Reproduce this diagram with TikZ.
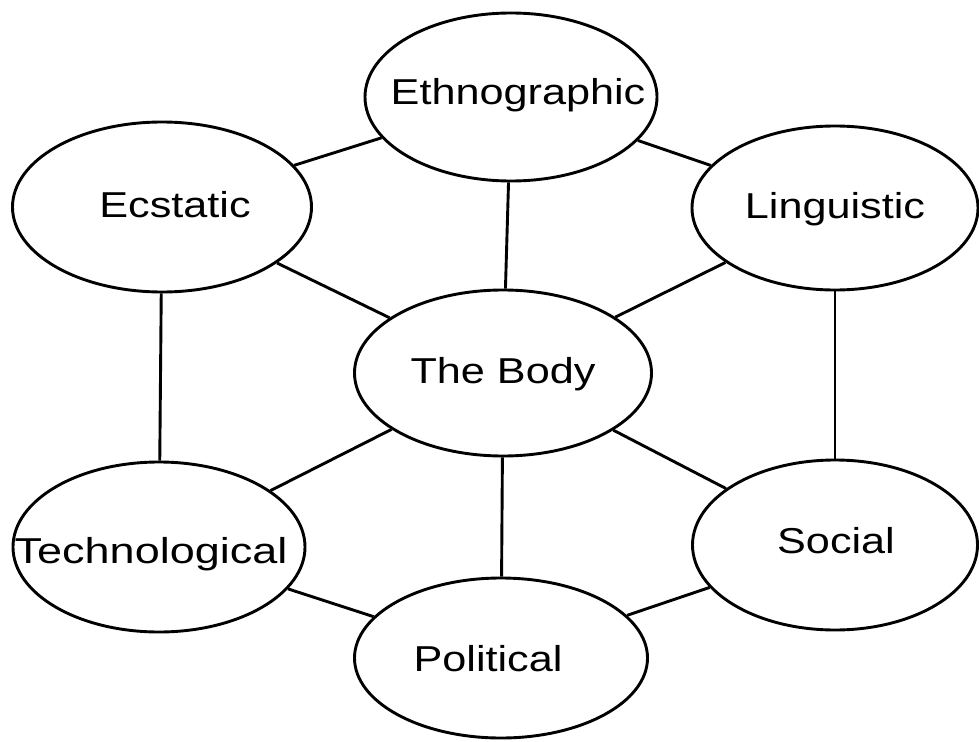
\documentclass[tikz,border=0pt]{standalone}
\usepackage{fontspec}
\setmainfont{Liberation Sans}
\usepackage{graphicx}
\usetikzlibrary{shapes.geometric}
\tikzset{
  oval/.style={ellipse, draw=black, line width=2.9pt, inner sep=0pt, fill=white},
  link/.style={draw=black, line width=2.9pt},
  lbl/.style={anchor=base, inner sep=0pt, font=\fontsize{36}{40}\selectfont}
}
\newcommand{\wide}[1]{\scalebox{1.2}[1]{#1}}
\begin{document}
\begin{tikzpicture}[x=1pt,y=-1pt]
\useasboundingbox (0,0) rectangle (979,741);
\node[oval, minimum width=292pt, minimum height=168pt] (eth) at (511,97) {};
\node[oval, minimum width=299pt, minimum height=170pt] (ecs) at (162,207) {};
\node[oval, minimum width=286pt, minimum height=164pt] (lin) at (835,208) {};
\node[oval, minimum width=297pt, minimum height=166pt] (body) at (503,373) {};
\node[oval, minimum width=292pt, minimum height=170pt] (tec) at (159,547) {};
\node[oval, minimum width=285pt, minimum height=170pt] (soc) at (835,545) {};
\node[oval, minimum width=293pt, minimum height=160pt] (pol) at (501,658) {};
\node[lbl] (teth) at (518,105) {\wide{Ethnographic}};
\node[lbl] (tecs) at (175,217) {\wide{Ecstatic}};
\node[lbl] (tlin) at (835,218) {\wide{Linguistic}};
\node[lbl] (tbody) at (503,383) {\wide{The Body}};
\node[lbl] (ttec) at (151,563) {\scalebox{1.25}[1]{Technological}};
\node[lbl] (tsoc) at (836,553) {\wide{Social}};
\node[lbl] (tpol) at (488,671) {\wide{Political}};
\draw[link] (body) -- (eth);
\draw[link] (body) -- (ecs);
\draw[link] (body) -- (lin);
\draw[link] (body) -- (tec);
\draw[link] (body) -- (soc);
\draw[link] (body) -- (pol);
\draw[link] (eth) -- (ecs);
\draw[link] (eth) -- (lin);
\draw[link] (ecs) -- (tec);
\draw[link] (lin) -- (soc);
\draw[link] (tec) -- (pol);
\draw[link] (soc) -- (pol);
\end{tikzpicture}
\end{document}
